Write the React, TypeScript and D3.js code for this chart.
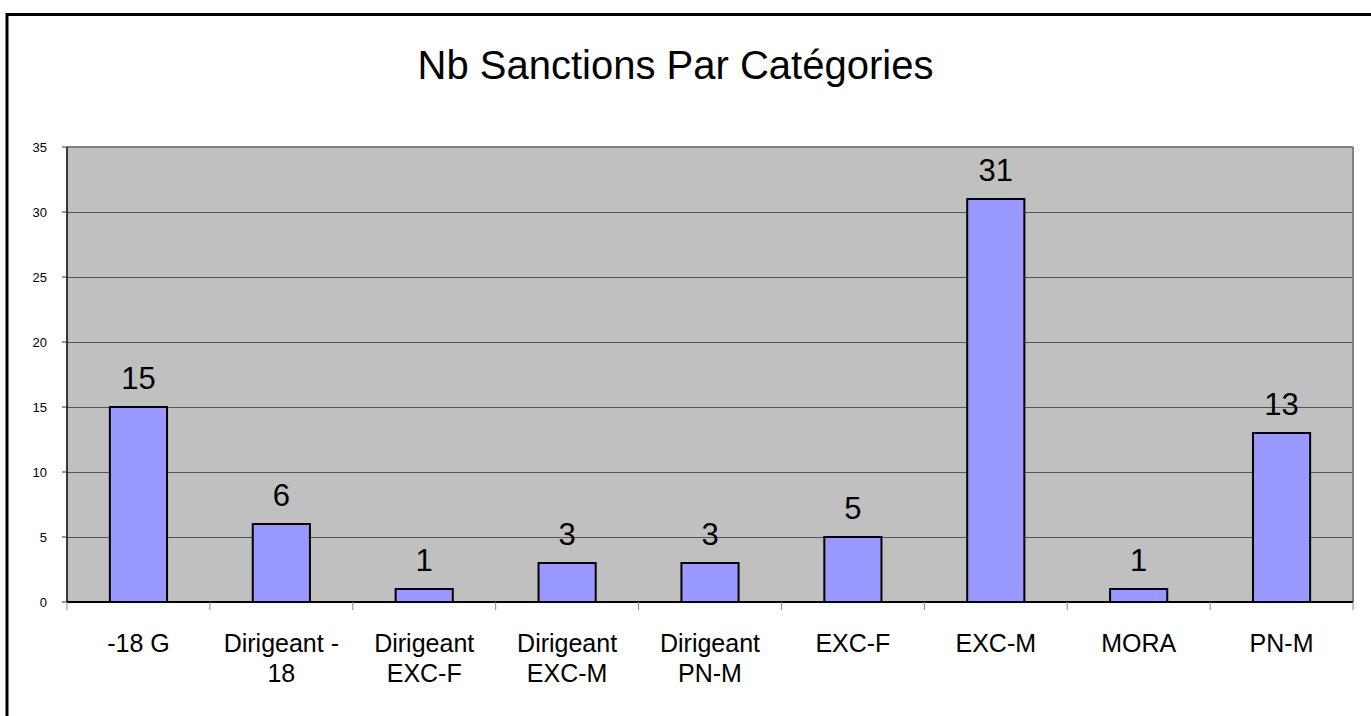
import React from "react";
import * as d3 from "d3";

const categories: string[][] = [
  ["-18 G"],
  ["Dirigeant -", "18"],
  ["Dirigeant", "EXC-F"],
  ["Dirigeant", "EXC-M"],
  ["Dirigeant", "PN-M"],
  ["EXC-F"],
  ["EXC-M"],
  ["MORA"],
  ["PN-M"],
];
const values: number[] = [15, 6, 1, 3, 3, 5, 31, 1, 13];
const yTicks: number[] = [0, 5, 10, 15, 20, 25, 30, 35];
const title = "Nb Sanctions Par Catégories";

const W = 1371;
const H = 716;
const plot = { left: 67, right: 1353, top: 147, bottom: 602 };
const FONT = "'Liberation Sans', Arial, sans-serif";

export default function App() {
  const keys = categories.map((c) => c.join(" "));
  const x = d3
    .scaleBand<string>()
    .domain(keys)
    .range([plot.left, plot.right])
    .paddingInner(0)
    .paddingOuter(0);
  const y = d3.scaleLinear().domain([0, 35]).range([plot.bottom, plot.top]);
  const bw = x.bandwidth() * 0.4;

  return (
    <svg
      width={W}
      height={H}
      style={{ position: "absolute", left: 0, top: 0, display: "block" }}
      fontFamily={FONT}
    >
      <rect x={0} y={0} width={W} height={H} fill="#fff" />
      {/* outer frame */}
      <rect x={7} y={14.5} width={W + 20} height={H + 20} fill="none" stroke="#000" strokeWidth={3} />
      {/* title */}
      <text x={675.5} y={79} textAnchor="middle" fontSize={40} fill="#000">
        {title}
      </text>
      {/* plot background */}
      <rect
        x={plot.left}
        y={plot.top}
        width={plot.right - plot.left}
        height={plot.bottom - plot.top}
        fill="#c0c0c0"
      />
      {/* gridlines */}
      {yTicks.slice(1, -1).map((t) => (
        <line
          key={"g" + t}
          x1={plot.left}
          x2={plot.right}
          y1={Math.round(y(t)) + 0.5}
          y2={Math.round(y(t)) + 0.5}
          stroke="#555"
          strokeWidth={1}
        />
      ))}
      {/* plot border top/right */}
      <line x1={plot.left} x2={plot.right} y1={plot.top} y2={plot.top} stroke="#808080" strokeWidth={2} />
      <line x1={plot.right} x2={plot.right} y1={plot.top} y2={plot.bottom} stroke="#808080" strokeWidth={2} />
      {/* bars */}
      {values.map((v, i) => {
        const cx = (x(keys[i]) as number) + x.bandwidth() / 2;
        return (
          <g key={"b" + i}>
            <rect
              x={cx - bw / 2}
              y={y(v)}
              width={bw}
              height={y(0) - y(v)}
              fill="#9999ff"
              stroke="#000"
              strokeWidth={2}
            />
            <text x={cx} y={y(v) - 18} textAnchor="middle" fontSize={31} fill="#000">
              {v}
            </text>
          </g>
        );
      })}
      {/* y axis */}
      <line x1={plot.left} x2={plot.left} y1={plot.top} y2={plot.bottom} stroke="#000" strokeWidth={1.5} />
      {yTicks.map((t) => (
        <g key={"y" + t}>
          <line x1={plot.left - 5} x2={plot.left} y1={y(t)} y2={y(t)} stroke="#333" strokeWidth={1} />
          <text x={47} y={y(t) + 4.5} textAnchor="end" fontSize={13} fill="#000">
            {t}
          </text>
        </g>
      ))}
      {/* x axis */}
      <line x1={plot.left} x2={plot.right} y1={plot.bottom} y2={plot.bottom} stroke="#000" strokeWidth={2} />
      {keys.map((k, i) => (
        <line
          key={"xt" + i}
          x1={x(k) as number}
          x2={x(k) as number}
          y1={plot.bottom}
          y2={plot.bottom + 8}
          stroke="#888"
          strokeWidth={1}
        />
      ))}
      <line x1={plot.right} x2={plot.right} y1={plot.bottom} y2={plot.bottom + 8} stroke="#888" strokeWidth={1} />
      {categories.map((lines, i) => {
        const cx = (x(keys[i]) as number) + x.bandwidth() / 2;
        return (
          <text key={"xl" + i} x={cx} y={652} textAnchor="middle" fontSize={25} fill="#000">
            {lines.map((l, j) => (
              <tspan key={j} x={cx} dy={j === 0 ? 0 : 30}>
                {l}
              </tspan>
            ))}
          </text>
        );
      })}
    </svg>
  );
}
